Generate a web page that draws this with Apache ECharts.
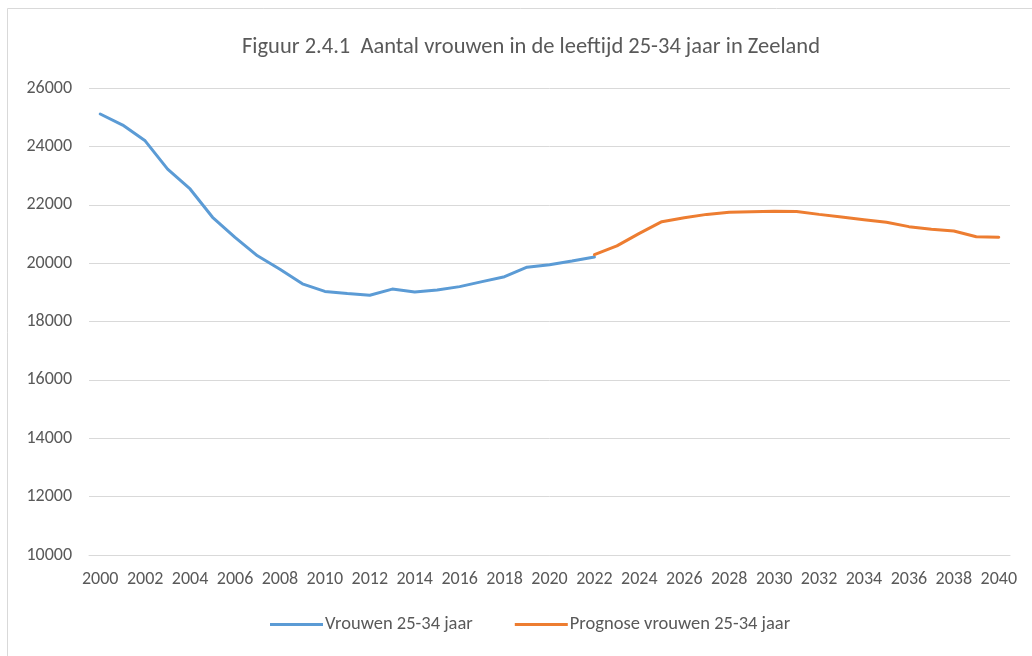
<!DOCTYPE html>
<html>
<head>
<meta charset="utf-8">
<script src="https://cdn.jsdelivr.net/npm/echarts@6/dist/echarts.min.js"></script>
<style>
  html, body { margin: 0; padding: 0; background: #fff; }
  #chart { width: 1032px; height: 656px; }
</style>
</head>
<body>
<div id="chart"></div>
<script>
// jaren 2000 t/m 2040
const years = [];
for (let y = 2000; y <= 2040; y++) years.push(String(y));

// waargenomen aantallen 2000-2022
const vrouwen = [25110, 24730, 24190, 23220, 22540, 21570, 20880, 20250, 19790, 19290,
  19030, 18960, 18900, 19110, 19010, 19080, 19195, 19365, 19535, 19860,
  19945, 20070, 20210];

// prognose 2022-2040
const prognose = [20290, 20590, 21020, 21420, 21555, 21670, 21740, 21760, 21775, 21765,
  21670, 21580, 21490, 21400, 21250, 21160, 21100, 20905, 20885];

const yTicks = { min: 10000, max: 26000, step: 2000 };

const font = 'Calibri, Carlito, "Open Sans", sans-serif';

const blueData = years.map((y, i) => i < vrouwen.length ? vrouwen[i] : null);
const orangeData = years.map((y, i) => i >= 22 ? prognose[i - 22] : null);

const chart = echarts.init(document.getElementById('chart'));
const option = {
  animation: false,
  backgroundColor: '#fff',
  graphic: [{
    type: 'rect',
    shape: { x: 7.5, y: 8.5, width: 1040, height: 660 },
    style: { fill: 'none', stroke: '#d9d9d9', lineWidth: 1 },
    silent: true
  }],
  title: {
    text: 'Figuur 2.4.1  Aantal vrouwen in de leeftijd 25-34 jaar in Zeeland',
    left: 526,
    top: 31,
    textAlign: 'center',
    textStyle: { fontFamily: font, fontSize: 22.5, fontWeight: 'normal', color: '#595959' }
  },
  legend: {
    bottom: 17,
    left: 265,
    itemGap: 42,
    itemWidth: 53,
    itemHeight: 3,
    icon: 'rect',
    textStyle: { fontFamily: font, fontSize: 18.5, color: '#595959', padding: [0, 0, 0, -3] },
    data: ['Vrouwen 25-34 jaar', 'Prognose vrouwen 25-34 jaar']
  },
  grid: { left: 89, right: 22, top: 88, bottom: 101, containLabel: false },
  xAxis: {
    type: 'category',
    data: years,
    boundaryGap: true,
    axisLine: { lineStyle: { color: '#d9d9d9', width: 1 } },
    axisTick: { show: false },
    axisLabel: { interval: 1, fontFamily: font, fontSize: 18, color: '#595959', margin: 15 }
  },
  yAxis: {
    type: 'value',
    min: yTicks.min,
    max: yTicks.max,
    interval: yTicks.step,
    axisLine: { show: false },
    axisTick: { show: false },
    axisLabel: {
      fontFamily: font, fontSize: 18, color: '#595959', margin: 17,
      formatter: function (v) { return String(v); }
    },
    splitLine: { lineStyle: { color: '#d9d9d9', width: 1 } }
  },
  series: [
    {
      name: 'Vrouwen 25-34 jaar',
      type: 'line',
      data: blueData,
      showSymbol: false,
      color: '#5B9BD5',
      lineStyle: { width: 3, color: '#5B9BD5', cap: 'round' }
    },
    {
      name: 'Prognose vrouwen 25-34 jaar',
      type: 'line',
      data: orangeData,
      showSymbol: false,
      color: '#ED7D31',
      lineStyle: { width: 3, color: '#ED7D31', cap: 'round' }
    }
  ]
};
chart.setOption(option);
</script>
</body>
</html>
